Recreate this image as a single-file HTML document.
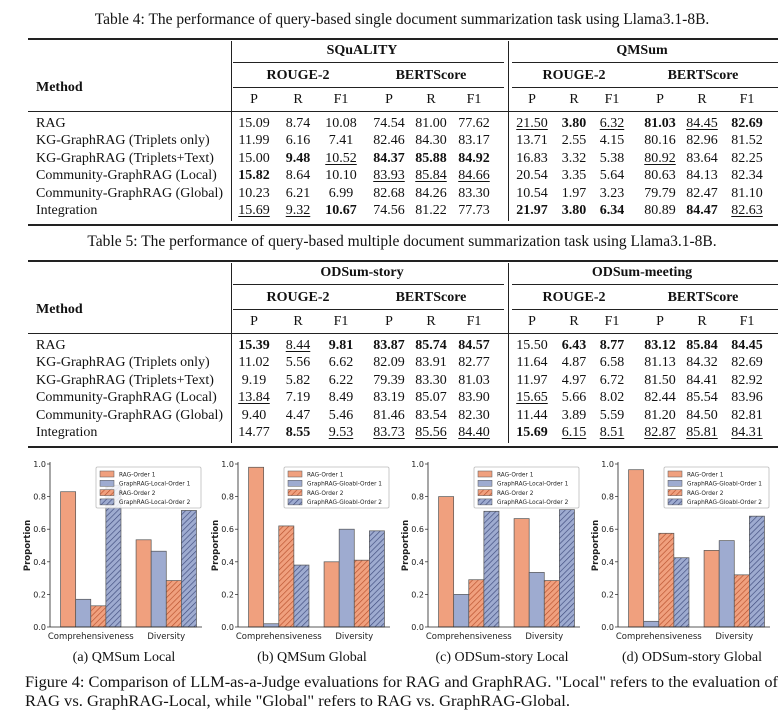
<!DOCTYPE html>
<html><head><meta charset="utf-8">
<style>
body{margin:0;background:#fff;}
#root{position:relative;width:784px;height:720px;overflow:hidden;font-family:"Liberation Serif",serif;color:#111;}
.c{position:absolute;transform:translate(-50%,-50%);white-space:nowrap;font-size:14px;}
.l{position:absolute;transform:translateY(-50%);white-space:nowrap;font-size:14px;}
.b{font-weight:bold;}
.u{text-decoration:underline;text-underline-offset:2px;text-decoration-thickness:1px;}
.rule{position:absolute;background:#222;}
</style></head>
<body><div id="root"></div>
<script>
const colX=[254,298,341,389,431,474,532,574,612,660,702,747];
const methods=["RAG","KG-GraphRAG (Triplets only)","KG-GraphRAG (Triplets+Text)","Community-GraphRAG (Local)","Community-GraphRAG (Global)","Integration"];
const t4rows=[
"15.09 8.74 10.08 74.54 81.00 77.62 _21.50 *3.80 _6.32 *81.03 _84.45 *82.69",
"11.99 6.16 7.41 82.46 84.30 83.17 13.71 2.55 4.15 80.16 82.96 81.52",
"15.00 *9.48 _10.52 *84.37 *85.88 *84.92 16.83 3.32 5.38 _80.92 83.64 82.25",
"*15.82 8.64 10.10 _83.93 _85.84 _84.66 20.54 3.35 5.64 80.63 84.13 82.34",
"10.23 6.21 6.99 82.68 84.26 83.30 10.54 1.97 3.23 79.79 82.47 81.10",
"_15.69 _9.32 *10.67 74.56 81.22 77.73 *21.97 *3.80 *6.34 80.89 *84.47 _82.63"];
const t5rows=[
"*15.39 _8.44 *9.81 *83.87 *85.74 *84.57 15.50 *6.43 *8.77 *83.12 *85.84 *84.45",
"11.02 5.56 6.62 82.09 83.91 82.77 11.64 4.87 6.58 81.13 84.32 82.69",
"9.19 5.82 6.22 79.39 83.30 81.03 11.97 4.97 6.72 81.50 84.41 82.92",
"_13.84 7.19 8.49 83.19 85.07 83.90 _15.65 5.66 8.02 82.44 85.54 83.96",
"9.40 4.47 5.46 81.46 83.54 82.30 11.44 3.89 5.59 81.20 84.50 82.81",
"14.77 *8.55 _9.53 _83.73 _85.56 _84.40 *15.69 _6.15 _8.51 _82.87 _85.81 _84.31"];
const root=document.getElementById('root');
function el(cls,x,y,txt,name,extra){const d=document.createElement('div');d.className=cls+(extra?' '+extra:'');d.style.left=x+'px';d.style.top=y+'px';d.textContent=txt;


root.appendChild(d);return d;}
function rule(x,y,w,h,name){const d=document.createElement('div');d.className='rule';d.style.left=x+'px';d.style.top=y+'px';d.style.width=w+'px';d.style.height=h+'px';


root.appendChild(d);}
function table(y0,title,ds1,ds2,rows,tn){
  el('c',402,y0-18,title,tn+'-title').style.fontSize='15.5px';
  rule(28,y0,750,1.5,tn+'-top-rule');
  el('c',362,y0+13,ds1,tn+'-dataset1','b');
  el('c',642,y0+13,ds2,tn+'-dataset2','b');
  rule(233,y0+24,271,1,tn+'-mid-rule');rule(512,y0+24,266,1,tn+'-mid-rule');
  el('l',36,y0+50,'Method',tn+'-method-header','b');
  const subs=[[298,'ROUGE-2'],[431,'BERTScore'],[574,'ROUGE-2'],[703,'BERTScore']];
  subs.forEach(s=>el('c',s[0],y0+38,s[1],tn+'-metric-header','b'));
  rule(233,y0+49,271,1,tn+'-sub-rule');rule(512,y0+49,266,1,tn+'-sub-rule');
  ['P','R','F1','P','R','F1','P','R','F1','P','R','F1'].forEach((h,i)=>el('c',colX[i],y0+62,h,tn+'-col-header'));
  rule(28,y0+73,750,1,tn+'-header-rule');
  rows.forEach((r,ri)=>{const y=y0+86+ri*17.4;
    el('l',36,y,methods[ri],tn+'-method-label');
    r.split(' ').forEach((v,ci)=>{let cls='';if(v[0]=='*'){cls='b';v=v.slice(1);}else if(v[0]=='_'){cls='u';v=v.slice(1);}
      el('c',colX[ci],y,v,tn+'-cell',cls);});});
  rule(28,y0+186,750,1.5,tn+'-bottom-rule');
  rule(231,y0+3,1,180,tn+'-divider');rule(508,y0+3,1,180,tn+'-divider');
}
table(38,'Table 4: The performance of query-based single document summarization task using Llama3.1-8B.','SQuALITY','QMSum',t4rows,'table4');
table(260,'Table 5: The performance of query-based multiple document summarization task using Llama3.1-8B.','ODSum-story','ODSum-meeting',t5rows,'table5');
</script>
<script>
// chart data
const categories=["Comprehensiveness","Diversity"];
const panelTitles=["(a) QMSum Local","(b) QMSum Global","(c) ODSum-story Local","(d) ODSum-story Global"];
const seriesLocal=["RAG-Order 1","GraphRAG-Local-Order 1","RAG-Order 2","GraphRAG-Local-Order 2"];
const seriesGlobal=["RAG-Order 1","GraphRAG-Gloabl-Order 1","RAG-Order 2","GraphRAG-Gloabl-Order 2"];
const aComp=[0.83,0.17,0.13,0.87]; const aDiv=[0.535,0.465,0.285,0.715];
const bComp=[0.98,0.02,0.62,0.38]; const bDiv=[0.40,0.60,0.41,0.59];
const cComp=[0.80,0.20,0.29,0.71]; const cDiv=[0.665,0.335,0.285,0.72];
const dComp=[0.965,0.035,0.575,0.425]; const dDiv=[0.47,0.53,0.32,0.68];
const yTicks=["0.0","0.2","0.4","0.6","0.8","1.0"];
const panels=[[aComp,aDiv,seriesLocal,50],[bComp,bDiv,seriesGlobal,238],[cComp,cDiv,seriesLocal,428],[dComp,dDiv,seriesGlobal,618]];
const NS='http://www.w3.org/2000/svg';
const svg=document.createElementNS(NS,'svg');
svg.setAttribute('width','784');svg.setAttribute('height','720');
svg.style.position='absolute';svg.style.left='0';svg.style.top='0';


root.appendChild(svg);
svg.innerHTML=`<defs>
<pattern id="hO" width="4" height="4" patternUnits="userSpaceOnUse" patternTransform="rotate(45)"><rect width="4" height="4" fill="#f0a07e"/><line x1="0" y1="0" x2="0" y2="4" stroke="#b8502c" stroke-width="1.3"/></pattern>
<pattern id="hB" width="4" height="4" patternUnits="userSpaceOnUse" patternTransform="rotate(45)"><rect width="4" height="4" fill="#9eabd0"/><line x1="0" y1="0" x2="0" y2="4" stroke="#3e4a7c" stroke-width="1.3"/></pattern></defs>`;
const fills=['#f0a07e','#9eabd0','url(#hO)','url(#hB)'];
function mk(tag,attrs,parent,name){const e=document.createElementNS(NS,tag);for(const k in attrs)e.setAttribute(k,attrs[k]);


(parent||svg).appendChild(e);return e;}
const Y0=627,Y1=464;
function yS(v){return Y0-(Y0-Y1)*v;}
panels.forEach((p,pi)=>{
  const [comp,div,names,x0]=p;const W=152;const unit=75.5;
  const xS=g=>x0+(0.54+g)*unit;
  const g=mk('g',{},svg,'chart-panel-'+pi);
  [comp,div].forEach((vals,gi)=>{vals.forEach((v,si)=>{const cx=xS(gi)+(si-1.5)*0.2*unit;
    mk('rect',{x:cx-0.1*unit,y:yS(v),width:0.2*unit,height:Y0-yS(v),fill:fills[si],stroke:'#555','stroke-width':0.7},g,'bar-'+categories[gi].toLowerCase()+'-'+si);});
    const t=mk('text',{x:xS(gi),y:Y0+12,'text-anchor':'middle','font-size':8.5,'font-family':'DejaVu Sans, sans-serif',fill:'#222'},g,'x-tick-label');t.textContent=categories[gi];});
  mk('line',{x1:x0,y1:Y0,x2:x0,y2:Y1-2,stroke:'#222','stroke-width':0.8},g,'y-axis');
  mk('line',{x1:x0,y1:Y0,x2:x0+W,y2:Y0,stroke:'#222','stroke-width':0.8},g,'x-axis');
  yTicks.forEach(tk=>{const y=yS(parseFloat(tk));mk('line',{x1:x0-3,y1:y,x2:x0,y2:y,stroke:'#222','stroke-width':0.7},g,'y-tick');
    const t=mk('text',{x:x0-4,y:y+3,'text-anchor':'end','font-size':8,'font-family':'DejaVu Sans, sans-serif',fill:'#222'},g,'y-tick-label');t.textContent=tk;});
  const yl=mk('text',{x:0,y:0,transform:`translate(${x0-20},${(Y0+Y1)/2}) rotate(-90)`,'text-anchor':'middle','font-size':8.5,'font-weight':'bold','font-family':'DejaVu Sans, sans-serif',fill:'#222'},g,'y-axis-title');yl.textContent='Proportion';
  const lx=x0+W-106,ly=467;
  mk('rect',{x:lx,y:ly,width:105,height:41,fill:'#fff','fill-opacity':0.85,stroke:'#bbb','stroke-width':0.8,rx:1.5},g,'legend-box');
  names.forEach((n,si)=>{const yy=ly+4+si*9.3;
    mk('rect',{x:lx+4,y:yy,width:14,height:6,fill:fills[si],stroke:'#555','stroke-width':0.5},g,'legend-swatch');
    const t=mk('text',{x:lx+23,y:yy+5.3,'font-size':5.8,'font-family':'DejaVu Sans, sans-serif',fill:'#222'},g,'legend-entry');t.textContent=n;});
  const ct=mk('text',{x:x0+W/2-2,y:661,'text-anchor':'middle','font-size':14,'font-family':'Liberation Serif, serif',fill:'#111'},g,'panel-caption');ct.textContent=panelTitles[pi];
});
const c1=mk('text',{x:25,y:687,'font-size':15.5,'font-family':'Liberation Serif, serif',fill:'#111',textLength:753,lengthAdjust:'spacingAndGlyphs'},svg,'figure-caption-line1');
c1.textContent='Figure 4: Comparison of LLM-as-a-Judge evaluations for RAG and GraphRAG. "Local" refers to the evaluation of';
const c2=mk('text',{x:25,y:706,'font-size':15.5,'font-family':'Liberation Serif, serif',fill:'#111',textLength:545,lengthAdjust:'spacingAndGlyphs'},svg,'figure-caption-line2');
c2.textContent='RAG vs. GraphRAG-Local, while "Global" refers to RAG vs. GraphRAG-Global.';
</script>
</body></html>
